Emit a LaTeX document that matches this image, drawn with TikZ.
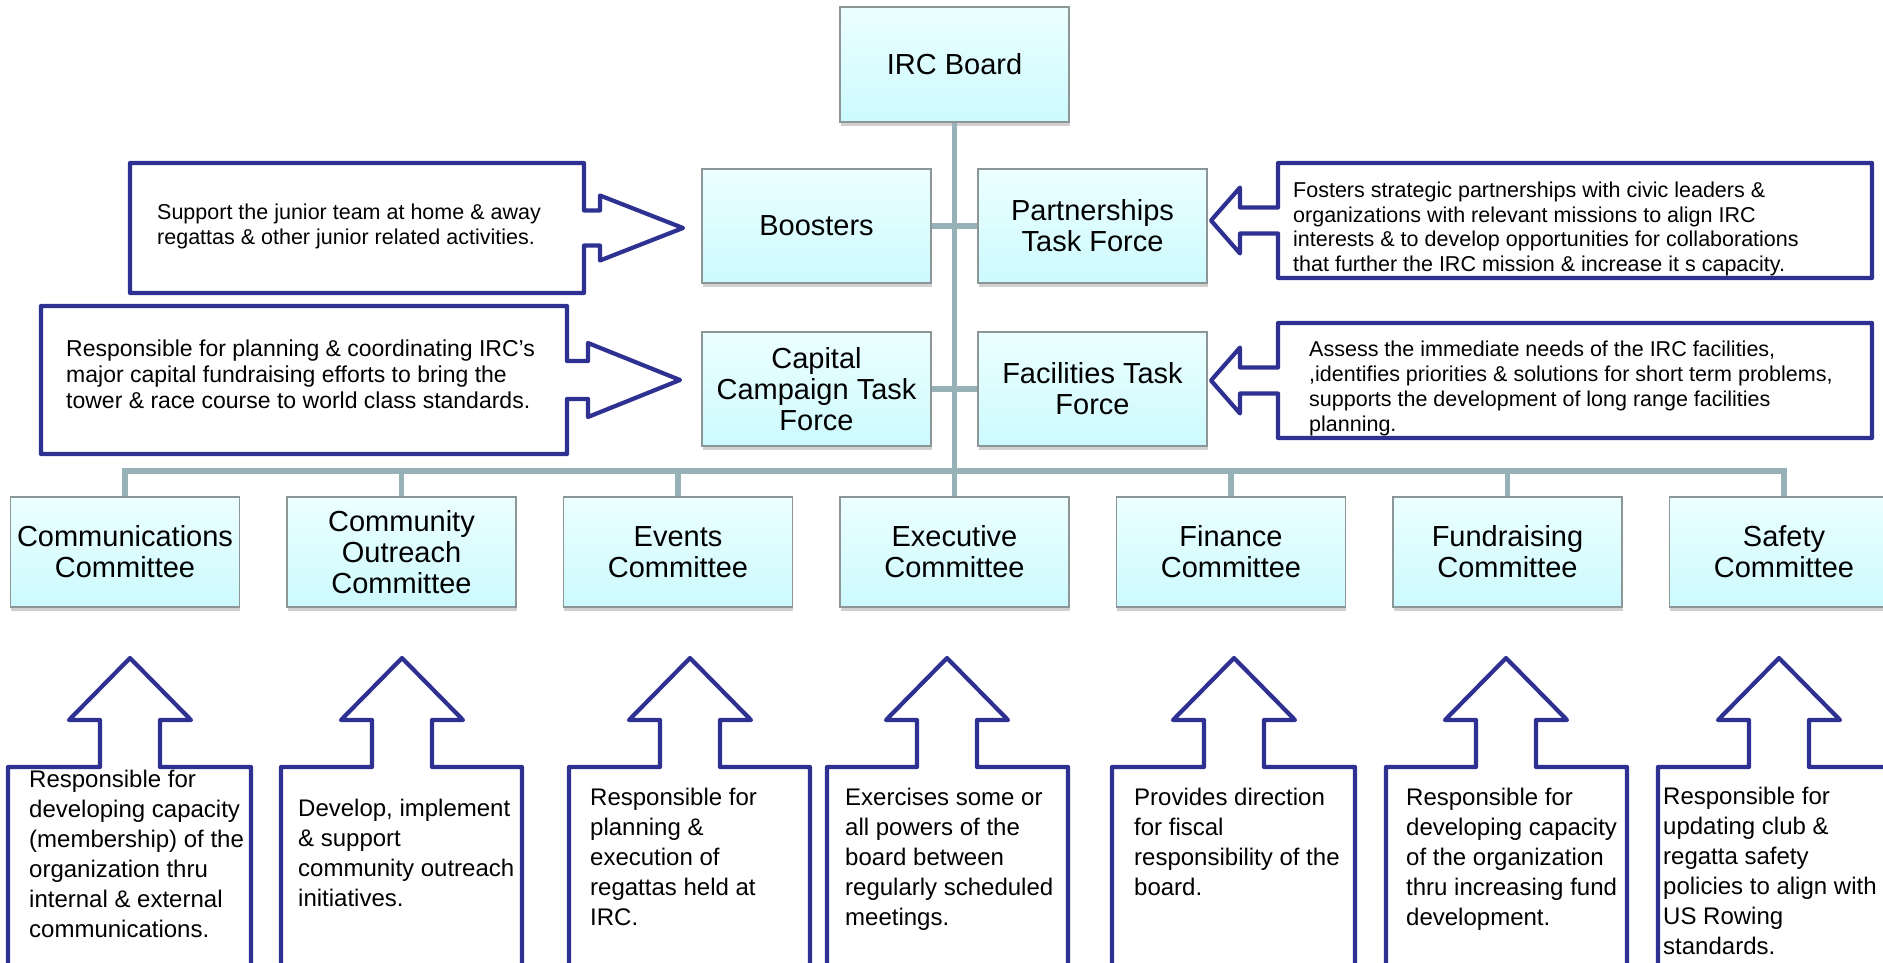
\documentclass[tikz,border=0pt]{standalone}
\usepackage{fontspec}
\setmainfont{Liberation Sans}
\usetikzlibrary{shadows}
\definecolor{conncol}{RGB}{150,178,182}
\definecolor{callblue}{RGB}{46,49,146}
\definecolor{boxtop}{RGB}{236,255,255}
\definecolor{boxbot}{RGB}{204,250,254}
\definecolor{boxline}{RGB}{140,150,150}
\newcommand{\upcallout}[3]{%
  \draw[callout] (#1,985) -- (#1,767) -- ({#2-30},767) -- ({#2-30},720) -- ({#2-61},720) -- (#2,658)
     -- ({#2+61},720) -- ({#2+30},720) -- ({#2+30},767) -- (#3,767) -- (#3,985);}
\begin{document}
\begin{tikzpicture}[x=1pt,y=-1pt,
  orgbox/.style={draw=boxline, line width=1.3pt, top color=boxtop, bottom color=boxbot,
    minimum width=229pt, minimum height=114pt, inner sep=2pt, align=center,
    font=\fontsize{29}{31}\selectfont,
    drop shadow={shadow xshift=0.5pt, shadow yshift=-4pt, opacity=0.3, fill=black!60}},
  conn/.style={draw=conncol, line width=5.5pt},
  callout/.style={draw=callblue, line width=4.2pt, line join=round, fill=white},
  sidetext/.style={anchor=north west, inner sep=0pt, align=left, font=\fontsize{21.5}{25}\selectfont},
  bottext/.style={anchor=north west, inner sep=0pt, align=left, font=\fontsize{24}{30}\selectfont}
]
\useasboundingbox (0,0) rectangle (1883,963);
\clip (0,0) rectangle (1883,963);
\fill[white] (0,0) rectangle (1883,963);

% ---- boxes ----
\node[orgbox, minimum height=115pt] (board) at (954.5,64.5) {IRC Board};
\node[orgbox] (boost) at (816.5,226) {Boosters};
\node[orgbox] (part) at (1092.5,226) {Partnerships\\Task Force};
\node[orgbox] (cap) at (816.5,389) {Capital\\Campaign Task\\Force};
\node[orgbox] (fac) at (1092.5,389) {Facilities Task\\Force};

\node[orgbox, minimum height=110pt] (c1) at (125,552) {Communications\\Committee};
\node[orgbox, minimum height=110pt] (c2) at (401.5,552) {Community\\Outreach\\Committee};
\node[orgbox, minimum height=110pt] (c3) at (678,552) {Events\\Committee};
\node[orgbox, minimum height=110pt] (c4) at (954.5,552) {Executive\\Committee};
\node[orgbox, minimum height=110pt] (c5) at (1231,552) {Finance\\Committee};
\node[orgbox, minimum height=110pt] (c6) at (1507.5,552) {Fundraising\\Committee};
\node[orgbox, minimum height=110pt] (c7) at (1784,552) {Safety\\Committee};

% ---- connectors ----
\coordinate (bus) at (954.5,471);
\draw[conn] (board.south) -- (bus);
\draw[conn] (boost.east) -- (boost.east -| board.south);
\draw[conn] (part.west) -- (part.west -| board.south);
\draw[conn] (cap.east) -- (cap.east -| board.south);
\draw[conn] (fac.west) -- (fac.west -| board.south);
\foreach \c in {c1,c2,c3,c4,c5,c6,c7}{
  \draw[conn] (bus) -| (\c.north);
}

% ---- side callouts ----
\draw[callout] (130,163) -- (584,163) -- (584,210.5) -- (600,210.5) -- (600,195.5) -- (683,228)
  -- (600,260.5) -- (600,245.5) -- (584,245.5) -- (584,293) -- (130,293) -- cycle;
\draw[callout] (41,306) -- (567,306) -- (567,361) -- (588,361) -- (588,343) -- (680,380)
  -- (588,417) -- (588,399) -- (567,399) -- (567,454) -- (41,454) -- cycle;
\draw[callout] (1872,163) -- (1278,163) -- (1278,207.5) -- (1240,207.5) -- (1240,187.5) -- (1211,220.5)
  -- (1240,253.5) -- (1240,233.5) -- (1278,233.5) -- (1278,278) -- (1872,278) -- cycle;
\draw[callout] (1872,323) -- (1278,323) -- (1278,367.5) -- (1240,367.5) -- (1240,347.5) -- (1211,380.5)
  -- (1240,413.5) -- (1240,393.5) -- (1278,393.5) -- (1278,438) -- (1872,438) -- cycle;

\node[sidetext] (tboost) at (157,204) {Support the junior team at home \& away\\regattas \& other junior related activities.};
\node[sidetext, font=\fontsize{23}{26}\selectfont] (tcap) at (66,340) {Responsible for planning \& coordinating IRC’s\\major capital fundraising efforts to bring the\\tower \& race course to world class standards.};
\node[sidetext, font=\fontsize{21.5}{24.5}\selectfont] (tpart) at (1293,182) {Fosters strategic partnerships with civic leaders \&\\organizations with relevant missions to align IRC\\interests \& to develop opportunities for collaborations\\that further the IRC mission \& increase it s capacity.};
\node[sidetext, font=\fontsize{21.5}{24.8}\selectfont] (tfac) at (1309,341) {Assess the immediate needs of the IRC facilities,\\,identifies priorities \& solutions for short term problems,\\supports the development of long range facilities\\planning.};

% ---- bottom callouts ----
\upcallout{8}{130}{251}
\upcallout{281}{402}{522}
\upcallout{569}{690}{810}
\upcallout{827}{947}{1068}
\upcallout{1112}{1234}{1355}
\upcallout{1386}{1506}{1627}
\upcallout{1658}{1779}{1900}

\node[bottext] (t1) at (29,770) {Responsible for\\developing capacity\\(membership) of the\\organization thru\\internal \& external\\communications.};
\node[bottext] (t2) at (298,799) {Develop, implement\\\& support\\community outreach\\initiatives.};
\node[bottext] (t3) at (590,788) {Responsible for\\planning \&\\execution of\\regattas held at\\IRC.};
\node[bottext] (t4) at (845,788) {Exercises some or\\all powers of the\\board between\\regularly scheduled\\meetings.};
\node[bottext] (t5) at (1134,788) {Provides direction\\for fiscal\\responsibility of the\\board.};
\node[bottext] (t6) at (1406,788) {Responsible for\\developing capacity\\of the organization\\thru increasing fund\\development.};
\node[bottext] (t7) at (1663,787) {Responsible for\\updating club \&\\regatta safety\\policies to align with\\US Rowing\\standards.};
\end{tikzpicture}
\end{document}
